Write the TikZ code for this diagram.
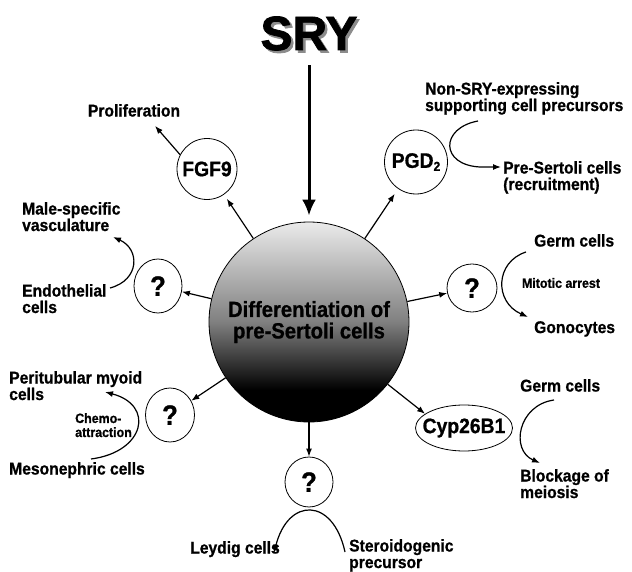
\documentclass[tikz,border=0pt]{standalone}
\usepackage{fontspec}
\setmainfont{Liberation Sans}[FakeStretch=0.92, BoldFeatures={FakeBold=0.8}]
\newfontfamily\heavyfont{Liberation Sans}[BoldFeatures={FakeBold=1.6}]
\usepackage{tikz}
\usetikzlibrary{positioning,shapes.geometric,arrows.meta}

\pgfdeclareverticalshading{sertoli}{100bp}{color(0bp)=(black); color(33bp)=(black); color(38bp)=(black!85); color(50bp)=(black!50); color(75bp)=(black!8); color(100bp)=(black!8)}

\begin{document}
\begin{tikzpicture}[x=1pt,y=-1pt,
    lbl/.style={font=\fontsize{17}{16.5}\selectfont\bfseries, inner sep=0pt, align=left},
    small/.style={font=\fontsize{13.5}{14}\selectfont\bfseries, inner sep=0pt, align=left},
    fac/.style={draw, ellipse, line width=0.8pt, inner sep=0pt},
    tag/.style={font=\fontsize{21}{21}\selectfont\bfseries, inner sep=0pt},
    qtag/.style={font=\fontsize{28}{28}\selectfont\bfseries, inner sep=0pt},
    arr/.style={-{Latex[length=8pt,width=6pt]}, line width=1.2pt}]
  \useasboundingbox (0,0) rectangle (632,572);
  % SRY and the pre-Sertoli cells
  \node[anchor=base, inner sep=0pt, font=\fontsize{48}{48}\heavyfont\bfseries] (sry) at (309,50)
    {\makebox[0pt][l]{\hspace{2.5pt}\raisebox{-2.5pt}{\textcolor{black!45}{SRY}}}SRY};
  \node[circle, draw, shade, shading=sertoli, line width=0.8pt, minimum size=200pt, inner sep=0pt, align=center,
        font=\fontsize{22}{21.5}\selectfont\bfseries] (diff) at (309,322) {Differentiation of\\pre-Sertoli cells};
  \draw[line width=3pt, -{Latex[length=16pt,width=14pt]}, shorten <=12pt, shorten >=6pt] (sry.south) -- (diff.north);

  % factors
  \node[fac, minimum width=60pt, minimum height=61pt, label={[tag]center:FGF9}] (fgf) at (207,169) {};
  \node[fac, minimum width=63pt, minimum height=64pt, label={[tag]center:{PGD\raisebox{-3pt}{\fontsize{13}{13}\selectfont 2}}}] (pgd) at (416,162) {};
  \node[fac, minimum width=48pt, minimum height=54pt, label={[qtag]center:?}] (qendo) at (158,286) {};
  \node[fac, minimum width=50pt, minimum height=48pt, label={[qtag]center:?}] (qgerm) at (472,288) {};
  \node[fac, minimum width=49pt, minimum height=54pt, label={[qtag]center:?}] (qmyo) at (170,415) {};
  \node[fac, minimum width=48pt, minimum height=50pt, label={[qtag]center:?}] (qley) at (309,482) {};
  \node[fac, minimum width=97pt, minimum height=46pt, label={[tag]center:Cyp26B1}] (cyp) at (464,428) {};

  \draw[arr, shorten >=5pt] (diff) -- (fgf);
  \draw[arr, shorten >=6pt] (diff) -- (pgd);
  \draw[arr] (diff) -- (qendo);
  \draw[arr] (diff) -- (qgerm);
  \draw[arr] (diff) -- (qmyo);
  \draw[arr] (diff) -- (qley);
  \draw[arr] (diff) -- (cyp.160);

  % targets
  \node[lbl, anchor=north] (prolif) at (134,104) {Proliferation};
  \node[lbl, anchor=north west] (nonsry) at (425,82) {Non-SRY-expressing\\supporting cell precursors};
  \node[lbl, anchor=north west] (presert) at (503,161) {Pre-Sertoli cells\\(recruitment)};
  \node[lbl, anchor=north west] (male) at (22,202) {Male-specific\\vasculature};
  \node[lbl, anchor=north west] (endo) at (22,284) {Endothelial\\cells};
  \node[lbl, anchor=north west] (germa) at (534,234) {Germ cells};
  \node[small] (mitotic) at (561,283) {Mitotic arrest};
  \node[lbl, anchor=north west] (gono) at (534,321) {Gonocytes};
  \node[lbl, anchor=north west] (peri) at (9,371) {Peritubular myoid\\cells};
  \node[small, anchor=north west] (chemo) at (75,413) {Chemo-\\attraction};
  \node[lbl, anchor=north west] (meso) at (9,462) {Mesonephric cells};
  \node[lbl, anchor=north] (leydig) at (235,541) {Leydig cells};
  \node[lbl, anchor=north west] (stero) at (349,539) {Steroidogenic\\precursor};
  \node[lbl, anchor=north west] (germb) at (520,379) {Germ cells};
  \node[lbl, anchor=north west] (block) at (520,469) {Blockage of\\meiosis};

  \draw[arr] (fgf.152) -- ([shift={(21,9)}]prolif.south);
  \draw[arr] ([shift={(53,39)}]nonsry.north west) .. controls +(-38,7) and +(-40,-2) .. ([shift={(-23,6)}]presert.north west) -- ([shift={(-2,6)}]presert.north west);
  \draw[arr] ([shift={(88,4)}]endo.north west) .. controls +(30,-8) and +(27,12) .. ([shift={(91,35)}]male.north west);
  \draw[arr] ([shift={(-8,18)}]germa.north west) .. controls +(-31,10) and +(-34,-15) .. ([shift={(-6,-4)}]gono.north west);
  \draw[arr] ([shift={(82,-3)}]meso.north west) .. controls +(54,-7) and +(50,13) .. ([shift={(96,21)}]peri.north west);
  \draw[arr] ([shift={(-4,13)}]stero.north west) .. controls +(-12,-55) and +(14,-56) .. ([shift={(39,12)}]leydig.north);
  \draw[arr] ([shift={(34,21)}]germb.north west) .. controls +(-36,5) and +(-30,-13) .. ([shift={(20,-6)}]block.north west);
\end{tikzpicture}
\end{document}
